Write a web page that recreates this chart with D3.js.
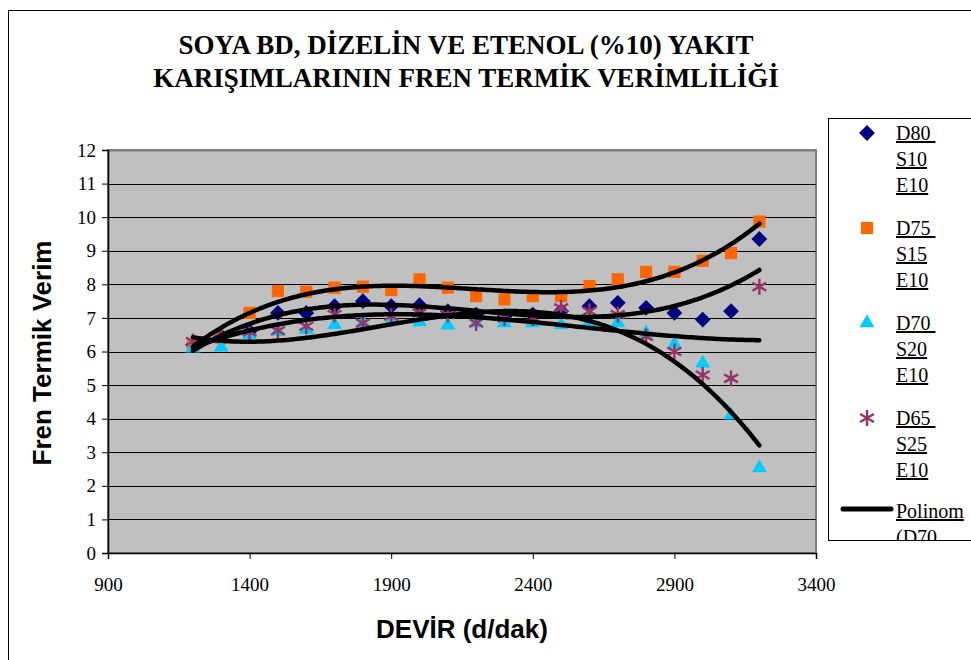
<!DOCTYPE html>
<html>
<head>
<meta charset="utf-8">
<script src="https://cdn.jsdelivr.net/npm/d3@7"></script>
<style>
    body { margin: 0; background: #fff; }
    svg { display: block; }
    .serif { font-family: "Liberation Serif", "Times New Roman", "DejaVu Serif", serif; }
    .sans { font-family: "Liberation Sans", Arial, "DejaVu Sans", sans-serif; }
</style>
</head>
<body>
<main></main>
<script>
const devir = [1200, 1300, 1400, 1500, 1600, 1700, 1800, 1900, 2000, 2100, 2200,
               2300, 2400, 2500, 2600, 2700, 2800, 2900, 3000, 3100, 3200];

const d80s10e10 = [6.2, 6.45, 6.6, 7.15, 7.15, 7.35, 7.5, 7.35, 7.38, 7.2, 7.1,
                   7.05, 7.1, 7.2, 7.35, 7.45, 7.3, 7.15, 6.95, 7.2, 9.35];
const d75s15e10 = [6.2, 6.4, 7.15, 7.8, 7.78, 7.9, 7.93, 7.83, 8.15, 7.9, 7.65,
                   7.55, 7.65, 7.65, 7.95, 8.15, 8.37, 8.37, 8.7, 8.93, 9.87];
const d70s20e10 = [6.1, 6.13, 6.5, 6.6, 6.65, 6.8, 6.85, 6.9, 6.88, 6.78, 6.85,
                   6.85, 6.85, 6.8, 6.88, 6.85, 6.55, 6.22, 5.65, 4.1, 2.53];
const d65s25e10 = [6.3, 6.5, 6.58, 6.62, 6.75, 7.1, 6.85, 7.05, 7.15, 7.1, 6.85,
                   7.0, 7.0, 7.3, 7.2, 7.1, 6.45, 6.0, 5.3, 5.2, 7.93];

const seriesNames = [["D80 ", "S10", "E10"], ["D75 ", "S15", "E10"],
                     ["D70 ", "S20", "E10"], ["D65 ", "S25", "E10"]];
const xTicks = [900, 1400, 1900, 2400, 2900, 3400];
const yTicks = [0, 1, 2, 3, 4, 5, 6, 7, 8, 9, 10, 11, 12];

const svgSize = { width: 971, height: 660 };
const plot = { left: 108, right: 816, top: 150, bottom: 553 };

const series = [
    { values: d80s10e10, color: "#000080", symbol: d3.symbolDiamond2, size: 160 },
    { values: d75s15e10, color: "#FF6600", symbol: d3.symbolSquare2, size: 190 },
    { values: d70s20e10, color: "#00CCFF", symbol: d3.symbolTriangle2, size: 160 },
    { values: d65s25e10, color: "#993366", symbol: d3.symbolAsterisk, size: 180, stroke: true }
];

const createCanvas = () => {
    return d3.select("main")
            .append("svg")
            .attr("width", svgSize.width)
            .attr("height", svgSize.height);
};

// polinom (3. derece) en kucuk kareler
const fitCubic = (xs, ys) => {
    const t = xs.map(x => (x - 2200) / 1000);
    const n = 4;
    const A = [];
    for (let i = 0; i < n; i++) {
        A.push([]);
        for (let j = 0; j < n; j++) A[i].push(d3.sum(t, v => Math.pow(v, i + j)));
        A[i].push(d3.sum(t, (v, k) => Math.pow(v, i) * ys[k]));
    }
    for (let c = 0; c < n; c++) {
        let p = c;
        for (let r = c + 1; r < n; r++) if (Math.abs(A[r][c]) > Math.abs(A[p][c])) p = r;
        [A[c], A[p]] = [A[p], A[c]];
        for (let r = 0; r < n; r++) {
            if (r === c) continue;
            const f = A[r][c] / A[c][c];
            for (let k = c; k <= n; k++) A[r][k] -= f * A[c][k];
        }
    }
    const coef = A.map((row, i) => row[n] / row[i]);
    return x => {
        const v = (x - 2200) / 1000;
        return coef[0] + coef[1] * v + coef[2] * v * v + coef[3] * v * v * v;
    };
};

const svg = createCanvas();

// dis cerceve
svg.append("rect")
    .attr("x", 8.5).attr("y", 10.5)
    .attr("width", 1000).attr("height", 700)
    .attr("fill", "none").attr("stroke", "#000").attr("stroke-width", 1);

const xScale = d3.scaleLinear().domain([900, 3400]).range([plot.left, plot.right]);
const yScale = d3.scaleLinear().domain([0, 12]).range([plot.bottom, plot.top]);

// cizim alani
svg.append("rect")
    .attr("x", plot.left).attr("y", plot.top)
    .attr("width", plot.right - plot.left).attr("height", plot.bottom - plot.top)
    .attr("fill", "#C0C0C0")
    .attr("stroke", "#808080").attr("stroke-width", 2);

svg.append("g")
    .selectAll("line")
    .data(yTicks.slice(1))
    .enter()
    .append("line")
    .attr("x1", plot.left).attr("x2", plot.right)
    .attr("y1", d => Math.round(yScale(d)) + 0.5)
    .attr("y2", d => Math.round(yScale(d)) + 0.5)
    .attr("stroke", d => d === 12 ? "#808080" : "#000")
    .attr("stroke-width", d => d === 12 ? 2 : 1);

const yAxis = svg.append("g")
    .attr("transform", `translate(${plot.left}, 0)`)
    .call(d3.axisLeft(yScale).tickValues(yTicks).tickSize(6).tickPadding(6));

const xAxis = svg.append("g")
    .attr("transform", `translate(0, ${plot.bottom})`)
    .call(d3.axisBottom(xScale).tickValues(xTicks).tickFormat(d3.format("d")).tickSize(6).tickPadding(19));

[yAxis, xAxis].forEach(ax => {
    ax.attr("font-family", null).attr("class", "serif");
    ax.select(".domain").attr("stroke", "#000").attr("stroke-width", 1.5);
    ax.selectAll(".tick line").attr("stroke", "#000");
    ax.selectAll("text")
        .attr("font-size", 19)
        .attr("fill", "#000");
});

// noktalar
series.forEach(s => {
    svg.append("g")
        .selectAll("path")
        .data(s.values)
        .enter()
        .append("path")
        .attr("transform", (d, i) => `translate(${xScale(devir[i])}, ${yScale(d)})`)
        .attr("d", d3.symbol().type(s.symbol).size(s.size))
        .attr("fill", s.stroke ? "none" : s.color)
        .attr("stroke", s.stroke ? s.color : "none")
        .attr("stroke-width", 2.4);
});

// trend cizgileri
const line = d3.line().x(d => xScale(d[0])).y(d => yScale(d[1]));
const samples = d3.range(1200, 3200.1, 10);
series.forEach(s => {
    const f = fitCubic(devir, s.values);
    svg.append("path")
        .datum(samples.map(x => [x, f(x)]))
        .attr("d", line)
        .attr("fill", "none")
        .attr("stroke", "#000")
        .attr("stroke-width", 4.5)
        .attr("stroke-linecap", "round");
});

// basliklar
const title = svg.append("text")
    .attr("class", "serif")
    .attr("text-anchor", "middle")
    .attr("font-weight", "bold")
    .attr("font-size", 27);
title.append("tspan").attr("x", 466).attr("y", 54).text("SOYA BD, DİZELİN VE ETENOL (%10) YAKIT");
title.append("tspan").attr("x", 466).attr("y", 87).text("KARIŞIMLARININ FREN TERMİK VERİMLİLİĞİ");

svg.append("text")
    .attr("class", "sans")
    .attr("transform", "translate(51, 353) rotate(-90)")
    .attr("text-anchor", "middle")
    .attr("font-weight", "bold")
    .attr("font-size", 26)
    .text("Fren Termik Verim");

svg.append("text")
    .attr("class", "sans")
    .attr("x", 462).attr("y", 638)
    .attr("text-anchor", "middle")
    .attr("font-weight", "bold")
    .attr("font-size", 26)
    .text("DEVİR (d/dak)");

// lejant
const legend = svg.append("g");
legend.append("defs").append("clipPath").attr("id", "legclip")
    .append("rect").attr("x", 828).attr("y", 118).attr("width", 200).attr("height", 422);
legend.append("rect")
    .attr("x", 828.5).attr("y", 118.5)
    .attr("width", 200).attr("height", 422)
    .attr("fill", "#fff").attr("stroke", "#000").attr("stroke-width", 1);

const legItems = legend.append("g").attr("clip-path", "url(#legclip)");
series.forEach((s, i) => {
    const y0 = 133 + i * 95;
    legItems.append("path")
        .attr("transform", `translate(867, ${y0})`)
        .attr("d", d3.symbol().type(s.symbol).size(s.size))
        .attr("fill", s.stroke ? "none" : s.color)
        .attr("stroke", s.stroke ? s.color : "none")
        .attr("stroke-width", 2.4);
    seriesNames[i].forEach((t, j) => {
        legItems.append("text")
            .attr("class", "serif")
            .attr("x", 896).attr("y", y0 + 7 + j * 26)
            .attr("font-size", 20)
            .attr("text-decoration", "underline")
            .style("white-space", "pre")
            .text(t);
    });
});
legItems.append("line")
    .attr("x1", 843).attr("x2", 891).attr("y1", 509).attr("y2", 509)
    .attr("stroke", "#000").attr("stroke-width", 5).attr("stroke-linecap", "round");
["Polinom", "(D70"].forEach((t, j) => {
    legItems.append("text")
        .attr("class", "serif")
        .attr("x", 896).attr("y", 518 + j * 26)
        .attr("font-size", 20)
        .attr("text-decoration", "underline")
        .text(t);
});
</script>
</body>
</html>
